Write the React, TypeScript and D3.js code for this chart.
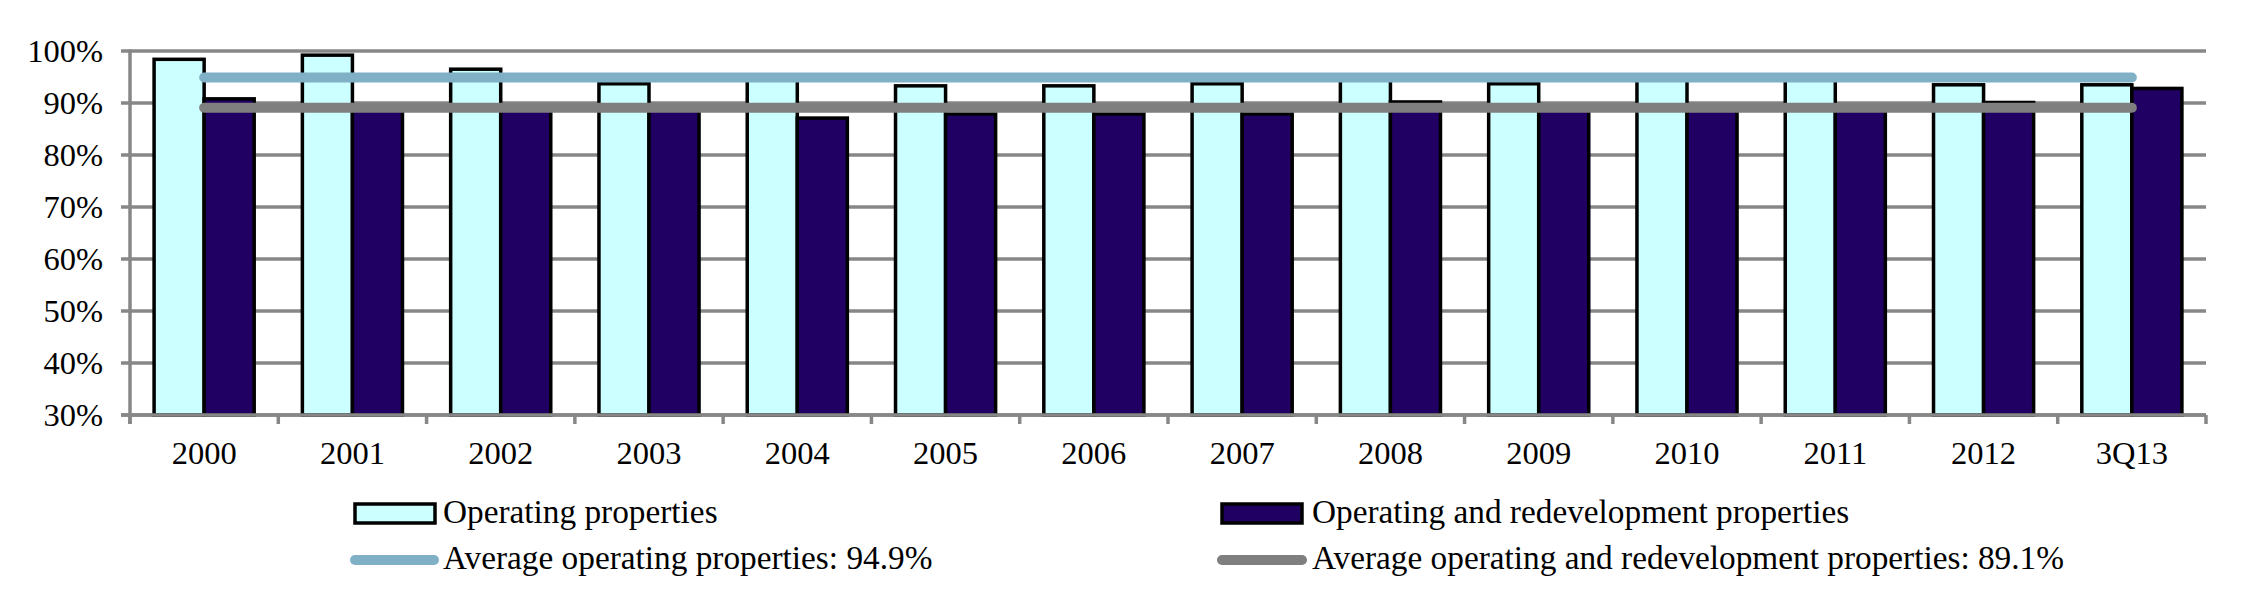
import React from "react";
import * as d3 from "d3";

const categories = ["2000","2001","2002","2003","2004","2005","2006","2007","2008","2009","2010","2011","2012","3Q13"];
const operating = [98.4, 99.2, 96.5, 93.7, 95.0, 93.3, 93.3, 93.7, 95.0, 93.7, 95.0, 95.0, 93.5, 93.5];
const operatingRedev = [90.8, 89.0, 88.8, 88.6, 87.1, 87.9, 87.9, 87.9, 90.2, 88.8, 88.7, 88.8, 90.1, 92.8];
const avgOperating = 94.9;
const avgOperatingRedev = 89.1;
const yTicks = [30, 40, 50, 60, 70, 80, 90, 100];
const seriesNames = ["Operating properties", "Operating and redevelopment properties"];
const avgNames = ["Average operating properties: 94.9%", "Average operating and redevelopment properties: 89.1%"];

const W = 2250, H = 600;
const left = 130, right = 2206, top = 51, bottom = 415;
const FONT = "'Liberation Serif', 'Times New Roman', serif";
const LIGHT = "#CCFFFF", DARK = "#200062", BLUE = "#80B0C6", GRAYLINE = "#7F7F7F", GRID = "#878787";
const LEG_FS = 33.3;

export default function App() {
  const x = d3.scaleBand<string>().domain(categories).range([left, right]).paddingInner(0).paddingOuter(0);
  const y = d3.scaleLinear().domain([30, 100]).range([bottom, top]);
  const bw = x.bandwidth();
  const groupW = bw * 0.675;
  const xs = d3.scaleBand<string>().domain(["op", "opr"]).range([(bw - groupW) / 2, (bw + groupW) / 2]).padding(0);
  const boundaries = categories.map((c) => x(c)!).concat([right]);
  const c0 = x(categories[0])! + bw / 2;
  const c1 = x(categories[categories.length - 1])! + bw / 2;
  const avgLine = d3.line<[number, number]>();

  return (
    <svg width={W} height={H} style={{ position: "absolute", left: 0, top: 0, background: "#fff" }}>
      {yTicks.map((t) => (
        <line key={t} x1={left - 9} x2={right} y1={y(t)} y2={y(t)} stroke={GRID} strokeWidth={3.5} />
      ))}
      {yTicks.map((t) => (
        <text key={"l" + t} x={103} y={y(t) + 11} textAnchor="end" fontFamily={FONT} fontSize={32.5} fill="#000">
          {t}%
        </text>
      ))}
      {categories.map((c, i) => (
        <g key={c} transform={`translate(${x(c)},0)`}>
          <rect x={xs("op")!} y={y(operating[i])} width={xs.bandwidth()} height={bottom - y(operating[i])}
            fill={LIGHT} stroke="#000" strokeWidth={3.5} />
          <rect x={xs("opr")!} y={y(operatingRedev[i])} width={xs.bandwidth()} height={bottom - y(operatingRedev[i])}
            fill={DARK} stroke="#000" strokeWidth={3.5} />
        </g>
      ))}
      <path d={avgLine([[c0, y(avgOperating)], [c1, y(avgOperating)]])!} stroke={BLUE} strokeWidth={10} strokeLinecap="round" fill="none" />
      <path d={avgLine([[c0, y(avgOperatingRedev)], [c1, y(avgOperatingRedev)]])!} stroke={GRAYLINE} strokeWidth={10} strokeLinecap="round" fill="none" />
      <line x1={left} x2={left} y1={top - 1.5} y2={bottom + 9} stroke={GRID} strokeWidth={3.5} />
      <line x1={left - 9} x2={right} y1={bottom} y2={bottom} stroke={GRID} strokeWidth={3.5} />
      {boundaries.map((b, i) => (
        <line key={"t" + i} x1={b} x2={b} y1={bottom} y2={bottom + 9} stroke={GRID} strokeWidth={3.5} />
      ))}
      {categories.map((c) => (
        <text key={"x" + c} x={x(c)! + bw / 2} y={464} textAnchor="middle" fontFamily={FONT} fontSize={32.5} fill="#000">
          {c}
        </text>
      ))}
      <rect x={355} y={504} width={80} height={19} fill={LIGHT} stroke="#000" strokeWidth={3.5} />
      <text x={443} y={523} fontFamily={FONT} fontSize={LEG_FS} fill="#000">{seriesNames[0]}</text>
      <rect x={1222} y={504} width={80} height={19} fill={DARK} stroke="#000" strokeWidth={3.5} />
      <text x={1312} y={523} fontFamily={FONT} fontSize={LEG_FS} fill="#000">{seriesNames[1]}</text>
      <line x1={355} x2={434} y1={560} y2={560} stroke={BLUE} strokeWidth={10} strokeLinecap="round" />
      <text x={443} y={569} fontFamily={FONT} fontSize={LEG_FS} fill="#000">{avgNames[0]}</text>
      <line x1={1222} x2={1302} y1={560} y2={560} stroke={GRAYLINE} strokeWidth={10} strokeLinecap="round" />
      <text x={1312} y={569} fontFamily={FONT} fontSize={LEG_FS} fill="#000">{avgNames[1]}</text>
    </svg>
  );
}
